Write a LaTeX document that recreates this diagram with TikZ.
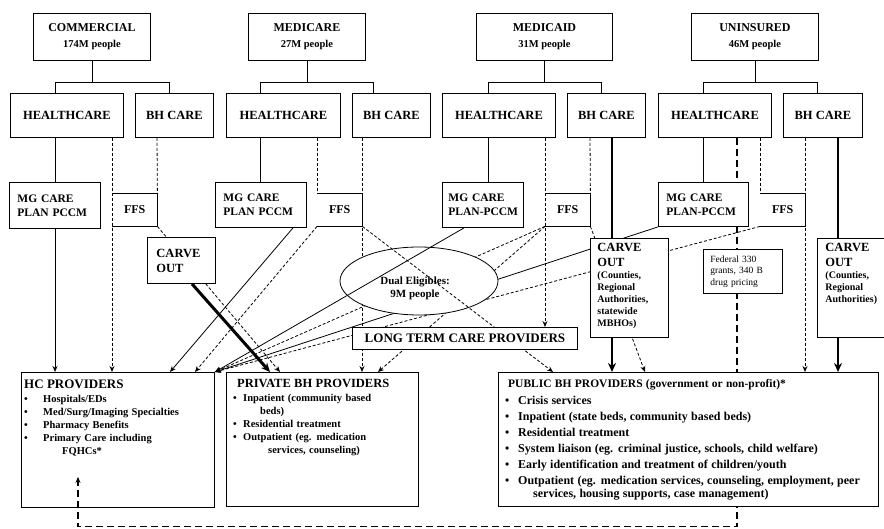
\documentclass[tikz,border=0pt]{standalone}
\usepackage{fontspec}
\setmainfont{Liberation Serif}
\usetikzlibrary{arrows.meta,shapes.geometric}
\pgfdeclarelayer{back}
\pgfdeclarelayer{mid}
\pgfdeclarelayer{front}
\pgfsetlayers{back,mid,main,front}
\newcommand\fsz[2]{\fontsize{#1}{#2}\selectfont}
% FFS boxes: the left side is the dashed feed line itself
\newcommand\ffsedges[1]{\draw[boxline] (#1.north west) -| (#1.south east) -- (#1.south west);}
\newcommand\bul[1]{\makebox[#1][l]{\textbullet}}
\begin{document}
\begin{tikzpicture}[x=1pt,y=-1pt,
  boxline/.style={line width=0.9pt},
  box/.style={draw, boxline, fill=white, anchor=north west, inner sep=0pt, align=center},
  wh/.style 2 args={minimum width=#1pt, minimum height=#2pt},
  hdbox/.style={box, font=\bfseries\fsz{12}{16}},
  brbox/.style={box, font=\bfseries\fsz{12.5}{15}},
  planbox/.style={box, align=left, inner xsep=8pt, font=\bfseries\fsz{11.5}{14}},
  ffsbox/.style={anchor=north west, inner sep=0pt, font=\bfseries\fsz{12}{14}},
  listtext/.style={anchor=north west, inner sep=0pt, align=left, font=\bfseries},
  treeln/.style={line width=0.8pt},
  solidln/.style={line width=0.8pt},
  dashln/.style={line width=0.8pt, dash pattern=on 3pt off 2pt},
  longdash/.style={line width=1.1pt, dash pattern=on 7pt off 4pt},
  thickln/.style={line width=2pt},
  heavyln/.style={line width=3pt},
  dblln/.style={double, double distance=1.4pt, line width=0.7pt},
  arr/.style={-{Stealth[length=6pt,width=5pt]}},
  bigarr/.style={-{Stealth[length=9pt,width=8pt]}},
]
\useasboundingbox (0,0) rectangle (884,529);

% ---------- payers ----------
\node[hdbox, wh={117}{47}] (t-com) at (33,13) {COMMERCIAL\\{\fsz{10.5}{16}174M people}};
\node[hdbox, wh={117}{47}] (t-mcr) at (248,13) {MEDICARE\\{\fsz{10.5}{16}27M people}};
\node[hdbox, wh={136}{47}] (t-mcd) at (476,13) {MEDICAID\\{\fsz{10.5}{16}31M people}};
\node[hdbox, wh={127}{47}] (t-uni) at (691,13) {UNINSURED\\{\fsz{10.5}{16}46M people}};

% ---------- healthcare / behavioral health branches ----------
\node[brbox, wh={113}{44}] (c-hc) at (10,93) {HEALTHCARE};
\node[brbox, wh={78}{44}]  (c-bh) at (135,93) {BH CARE};
\node[brbox, wh={114}{44}] (m-hc) at (226,93) {HEALTHCARE};
\node[brbox, wh={78}{44}]  (m-bh) at (352,93) {BH CARE};
\node[brbox, wh={113}{44}] (d-hc) at (442,93) {HEALTHCARE};
\node[brbox, wh={78}{44}]  (d-bh) at (567,93) {BH CARE};
\node[brbox, wh={113}{44}] (u-hc) at (658,93) {HEALTHCARE};
\node[brbox, wh={79}{44}]  (u-bh) at (783,93) {BH CARE};

% ---------- managed care plans and fee for service ----------
\node[planbox, wh={91}{46}, text width=75pt] (c-mg) at (9,182) {MG CARE\\PLAN PCCM};
\node[ffsbox, wh={45}{33}] (c-ffs) at (112,193) {FFS};
\ffsedges{c-ffs}
\node[planbox, wh={91}{45}, text width=75pt] (m-mg) at (215,182) {MG CARE\\PLAN PCCM};
\node[ffsbox, wh={45}{33}] (m-ffs) at (317,193) {FFS};
\ffsedges{m-ffs}
\node[planbox, wh={81}{45}, text width=69pt, inner xsep=6pt] (d-mg) at (442,182) {MG CARE\\\mbox{PLAN-PCCM}};
\node[ffsbox, wh={45}{33}] (d-ffs) at (545,193) {FFS};
\ffsedges{d-ffs}
\node[planbox, wh={90}{44}, text width=74pt] (u-mg) at (658,182) {MG CARE\\\mbox{PLAN-PCCM}};
\node[ffsbox, wh={45}{33}] (u-ffs) at (760,193) {FFS};
\ffsedges{u-ffs}

% ---------- carve outs and grants ----------
\node[box, wh={68}{46}, align=left, text width=50pt, inner xsep=9pt, font=\bfseries\fsz{12.5}{15}] (c-co) at (147,237) {CARVE\\OUT};
\node[box, wh={78}{99}, font=\bfseries] (d-co) at (590,238)
  {\parbox[c][95pt][t]{64pt}{\raggedright\vspace*{3pt}\fsz{12.5}{15}CARVE\\OUT\par
   \fsz{10}{12}(Counties,\\Regional\\Authorities,\\statewide\\MBHOs)\par}};
\node[box, wh={70}{99}, font=\bfseries] (u-co) at (817,238)
  {\parbox[c][95pt][t]{54pt}{\raggedright\vspace*{3pt}\fsz{12.5}{15}CARVE\\OUT\par
   \fsz{10}{12}(Counties,\\Regional\\Authorities)\par}};
\node[box, wh={79}{44}, align=left, text width=65pt, inner xsep=7pt, font=\fsz{9.5}{11.5}] (f-330) at (703,249) {Federal 330\\grants, 340 B\\drug pricing};

\node[box, wh={225}{22}, font=\bfseries\fsz{13}{15}] (ltc) at (352,327) {LONG TERM CARE PROVIDERS};

% ---------- provider groups ----------
\node[box, wh={193}{135}] (hcp) at (21,372) {};
\node[box, wh={192}{134}] (pbh) at (226,372) {};
\node[box, wh={380}{134}] (pub) at (498,372) {};

\node[listtext, text width=188pt] (hcp-t) at ([xshift=3pt,yshift=-8pt]hcp.north west)
  {\fsz{13}{14}HC PROVIDERS\par\vspace{1pt}
   \fsz{10.5}{13}\bul{19pt}Hospitals/EDs\\
   \bul{19pt}Med/Surg/Imaging Specialties\\
   \bul{19pt}Pharmacy Benefits\\
   \bul{19pt}Primary Care including\\
   \hspace*{38pt}FQHCs*\par};
\node[listtext, text width=183pt] (pbh-t) at ([xshift=7pt,yshift=-7pt]pbh.north west)
  {\fsz{12.5}{14}\hspace*{4pt}PRIVATE BH PROVIDERS\par\vspace{1pt}
   \fsz{10.5}{13}\bul{10pt}Inpatient (community based\\
   \hspace*{27pt}beds)\\
   \bul{10pt}Residential treatment\\
   \bul{10pt}Outpatient (eg. medication\\
   \hspace*{35pt}services, counseling)\par};
\node[listtext, text width=372pt] (pub-t) at ([xshift=7pt,yshift=-7pt]pub.north west)
  {\fsz{11.5}{13}\hspace*{3pt}PUBLIC BH PROVIDERS (government or non-profit)*\par\vspace{1pt}
   \fsz{12}{16}\bul{13pt}Crisis services\\
   \bul{13pt}Inpatient (state beds, community based beds)\\
   \bul{13pt}Residential treatment\\
   \bul{13pt}System liaison (eg. criminal justice, schools, child welfare)\\
   \bul{13pt}Early identification and treatment of children/youth\\
   \bul{13pt}Outpatient (eg. medication services, counseling, employment, peer\\[-3pt]
   \hspace*{28pt}services, housing supports, case management)\par};

\coordinate (fqhc) at ([xshift=57pt,yshift=31pt]hcp.south west);
\coordinate (hcp-low) at ([yshift=-19pt]hcp.south);
\coordinate (fb) at (fqhc |- hcp-low);

% ---------- lines that run behind the dual eligibles ellipse ----------
\begin{pgfonlayer}{back}
  \fill[white] (0,0) rectangle (884,529);
  \draw[dashln,arr] ([xshift=10pt]m-bh.south west) -- ([xshift=136pt]pbh.north west);
  \draw[dashln,arr] (d-ffs.south west) -- (hcp.north east);
  \draw[dashln,arr] (d-ffs.south west) -- ([xshift=152pt]pbh.north west);
  \draw[solidln,arr] (u-mg.south west) -- (hcp.north east);
  \draw[dashln,arr] (u-ffs.south west) -- (hcp.north east);
  \node[draw, ellipse, line width=0.8pt, fill=white, minimum width=158pt, minimum height=68pt, inner sep=0pt] (dual) at (419,281) {};
\end{pgfonlayer}
\node[font=\bfseries\fsz{11}{13}, align=center, inner sep=0pt] (dual-t) at ([xshift=-4pt,yshift=-7pt]dual.center) {Dual Eligibles:\\9M people};

% ---------- all other connectors ----------
\begin{pgfonlayer}{mid}
  % payer trees
  \draw[treeln] (t-com.south) -- ([yshift=-22pt]t-com.south);
  \draw[treeln] ([xshift=45pt]c-hc.north west) |- ([yshift=-22pt]t-com.south) -| ([xshift=34pt]c-bh.north west);
  \draw[treeln] (t-mcr.south) -- ([yshift=-22pt]t-mcr.south);
  \draw[treeln] ([xshift=34pt]m-hc.north west) |- ([yshift=-22pt]t-mcr.south) -| ([xshift=21pt]m-bh.north west);
  \draw[treeln] (t-mcd.south) -- ([yshift=-22pt]t-mcd.south);
  \draw[treeln] ([xshift=46pt]d-hc.north west) |- ([yshift=-22pt]t-mcd.south) -| ([xshift=34pt]d-bh.north west);
  \draw[treeln] (t-uni.south) -- ([yshift=-22pt]t-uni.south);
  \draw[treeln] ([xshift=45pt]u-hc.north west) |- ([yshift=-22pt]t-uni.south) -| ([xshift=34pt]u-bh.north west);

  % commercial
  \draw[solidln] ([xshift=45pt]c-hc.south west) -- ([xshift=46pt]c-mg.north west);
  \draw[solidln,arr] ([xshift=46pt]c-mg.south west) -- ([xshift=34pt]hcp.north west);
  \draw[dashln,arr] ([xshift=102pt]c-hc.south west) -- ([xshift=91pt]hcp.north west);
  \draw[dashln] ([xshift=22pt]c-bh.south west) -- (c-ffs.north east);
  \draw[dashln,arr] (c-ffs.south east) -- ([xshift=54pt]pbh.north west);
  \draw[dblln] ([xshift=45pt]c-bh.south west) -- ([xshift=33pt]c-co.north west);
  \draw[heavyln,bigarr] ([xshift=45pt]c-co.south west) -- ([xshift=44pt]pbh.north west);

  % medicare
  \draw[solidln] ([xshift=34pt]m-hc.south west) -- ([xshift=45pt]m-mg.north west);
  \draw[solidln,arr] ([xshift=78pt]m-mg.south west) -- ([xshift=149pt]hcp.north west);
  \draw[dashln] ([xshift=91pt]m-hc.south west) -- (m-ffs.north west);
  \draw[dashln,arr] (m-ffs.south west) -- ([xshift=174pt]hcp.north west);
  \draw[dashln,arr] (m-ffs.south east) -- ([xshift=55pt]pub.north west);

  % medicaid
  \draw[solidln] ([xshift=46pt]d-hc.south west) -- ([xshift=46pt]d-mg.north west);
  \draw[solidln,arr] ([xshift=22pt]d-mg.south west) -- (hcp.north east);
  \draw[dashln,arr] ([xshift=103pt]d-hc.south west) -- ([xshift=193pt]ltc.north west);
  \draw[dashln] ([xshift=23pt]d-bh.south west) -- (d-ffs.north east);
  \draw[dashln,arr] (d-ffs.south east) -- ([xshift=147pt]pub.north west);
  \draw[thickln] ([xshift=45pt]d-bh.south west) -- ([xshift=22pt]d-co.north west);
  \draw[thickln,bigarr] ([xshift=22pt]d-co.south west) -- ([xshift=114pt]pub.north west);

  % uninsured
  \draw[solidln] ([xshift=45pt]u-hc.south west) -- ([xshift=45pt]u-mg.north west);
  \draw[longdash] ([xshift=79pt]u-hc.south west) |- (fb) -- (fqhc |- hcp.south);
  \draw[dashln] ([xshift=102pt]u-hc.south west) -- (u-ffs.north west);
  \draw[dashln,arr] ([xshift=22pt]u-bh.south west) -- ([xshift=307pt]pub.north west);
  \draw[thickln] ([xshift=55pt]u-bh.south west) -- ([xshift=21pt]u-co.north west);
  \draw[thickln,bigarr] ([xshift=21pt]u-co.south west) -- ([xshift=340pt]pub.north west);
\end{pgfonlayer}

% grant funding reaching primary care / FQHCs
\begin{pgfonlayer}{front}
  \draw[longdash,arr] (fqhc |- hcp.south) -- (fqhc);
\end{pgfonlayer}
\end{tikzpicture}
\end{document}
